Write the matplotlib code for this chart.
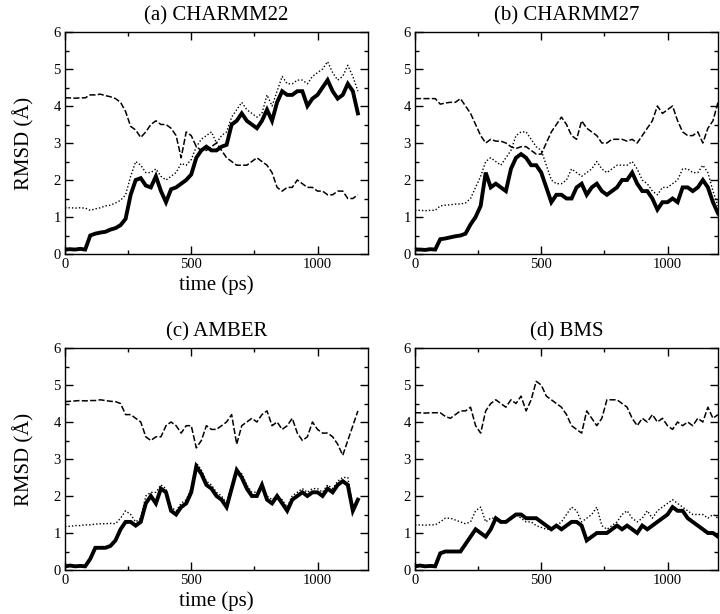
import matplotlib
matplotlib.use("Agg")
import matplotlib.pyplot as plt
from matplotlib.ticker import MultipleLocator

plt.rcParams['font.family'] = ['Liberation Serif', 'DejaVu Serif']
plt.rcParams['mathtext.fontset'] = 'stix'

titles = ["(a) CHARMM22", "(b) CHARMM27", "(c) AMBER", "(d) BMS"]

time_a = list(range(0, 1161, 20))
time_b = list(range(0, 1201, 20))
time_c = list(range(0, 1161, 20))
time_d = list(range(0, 1201, 20))

# (a) CHARMM22
solid_a = [0.12, 0.13, 0.12, 0.14, 0.12, 0.50, 0.55, 0.58, 0.60, 0.66, 0.70, 0.78, 0.95, 1.60, 2.00, 2.05,
           1.85, 1.80, 2.10, 1.70, 1.40, 1.75, 1.80, 1.90, 2.00, 2.15, 2.60, 2.80, 2.90, 2.80, 2.80, 2.90,
           2.95, 3.50, 3.60, 3.80, 3.60, 3.50, 3.40, 3.60, 3.90, 3.60, 4.10, 4.40, 4.30, 4.30, 4.40, 4.40,
           4.00, 4.20, 4.30, 4.50, 4.70, 4.40, 4.20, 4.30, 4.60, 4.40, 3.80]
dotted_a = [1.25, 1.25, 1.24, 1.25, 1.24, 1.18, 1.22, 1.25, 1.30, 1.32, 1.38, 1.45, 1.60, 2.10, 2.50, 2.40,
            2.20, 2.20, 2.30, 2.10, 2.00, 2.10, 2.20, 2.45, 2.40, 2.55, 2.90, 3.10, 3.20, 3.30, 3.00, 3.20,
            3.30, 3.70, 3.90, 4.10, 3.90, 3.80, 3.70, 3.80, 4.30, 4.00, 4.40, 4.80, 4.60, 4.60, 4.70, 4.70,
            4.60, 4.80, 4.90, 5.00, 5.20, 4.90, 4.70, 4.80, 5.10, 4.80, 4.40]
dashed_a = [4.22, 4.22, 4.21, 4.22, 4.22, 4.30, 4.30, 4.32, 4.28, 4.25, 4.20, 4.10, 3.85, 3.45, 3.35, 3.15,
            3.30, 3.50, 3.60, 3.50, 3.50, 3.40, 3.20, 2.60, 3.30, 3.20, 2.90, 2.80, 2.80, 2.90, 3.00, 2.80,
            2.60, 2.50, 2.40, 2.40, 2.40, 2.50, 2.60, 2.50, 2.40, 2.20, 1.80, 1.70, 1.80, 1.80, 2.00, 1.90,
            1.80, 1.80, 1.70, 1.70, 1.60, 1.60, 1.70, 1.70, 1.50, 1.50, 1.60]

# (b) CHARMM27
solid_b = [0.12, 0.12, 0.11, 0.13, 0.12, 0.40, 0.42, 0.45, 0.48, 0.50, 0.55, 0.80, 1.00, 1.30, 2.20, 1.80,
           1.90, 1.80, 1.70, 2.30, 2.60, 2.70, 2.60, 2.40, 2.40, 2.20, 1.80, 1.40, 1.60, 1.60, 1.50, 1.50,
           1.80, 1.90, 1.60, 1.80, 1.90, 1.70, 1.60, 1.70, 1.80, 2.00, 2.00, 2.20, 1.90, 1.70, 1.70, 1.50,
           1.20, 1.40, 1.40, 1.50, 1.40, 1.80, 1.80, 1.70, 1.80, 2.00, 1.80, 1.40, 1.10]
dotted_b = [1.18, 1.18, 1.17, 1.18, 1.18, 1.30, 1.32, 1.33, 1.35, 1.35, 1.38, 1.50, 1.80, 2.10, 2.50, 2.60,
            2.50, 2.40, 2.60, 2.80, 3.20, 3.30, 3.30, 3.10, 2.90, 2.80, 2.40, 2.00, 1.90, 1.90, 2.00, 2.30,
            2.20, 2.10, 2.20, 2.30, 2.50, 2.30, 2.20, 2.30, 2.40, 2.40, 2.40, 2.50, 2.30, 2.00, 1.90, 1.70,
            1.60, 1.80, 1.80, 1.90, 2.00, 2.30, 2.30, 2.20, 2.20, 2.40, 2.20, 1.70, 1.30]
dashed_b = [4.20, 4.20, 4.20, 4.20, 4.20, 4.05, 4.08, 4.10, 4.10, 4.20, 4.00, 3.80, 3.50, 3.20, 3.00, 3.10,
            3.05, 3.05, 3.00, 2.90, 2.85, 2.90, 2.90, 2.80, 2.70, 2.70, 3.00, 3.30, 3.50, 3.70, 3.50, 3.20,
            3.10, 3.60, 3.40, 3.30, 3.20, 3.00, 3.00, 3.10, 3.10, 3.10, 3.05, 3.10, 3.00, 3.20, 3.40, 3.60,
            4.00, 3.80, 3.90, 4.00, 3.60, 3.30, 3.20, 3.20, 3.30, 3.00, 3.40, 3.60, 4.10]

# (c) AMBER
solid_c = [0.10, 0.12, 0.10, 0.11, 0.10, 0.30, 0.60, 0.60, 0.60, 0.65, 0.80, 1.10, 1.30, 1.30, 1.20, 1.30,
           1.80, 2.00, 1.80, 2.20, 2.10, 1.60, 1.50, 1.70, 1.80, 2.10, 2.80, 2.60, 2.30, 2.20, 2.00, 1.90,
           1.70, 2.20, 2.70, 2.50, 2.20, 2.00, 2.00, 2.30, 1.90, 1.80, 2.00, 1.80, 1.60, 1.90, 2.00, 2.10,
           2.00, 2.10, 2.10, 2.00, 2.20, 2.10, 2.30, 2.40, 2.30, 1.60, 1.90]
dotted_c = [1.18, 1.18, 1.20, 1.20, 1.22, 1.22, 1.24, 1.25, 1.25, 1.26, 1.25, 1.40, 1.60, 1.50, 1.30, 1.40,
            2.00, 2.10, 2.10, 2.30, 2.20, 1.70, 1.60, 1.80, 1.90, 2.20, 2.90, 2.70, 2.40, 2.30, 2.10, 2.00,
            1.80, 2.30, 2.70, 2.60, 2.30, 2.10, 2.10, 2.30, 2.00, 1.90, 2.00, 1.90, 1.70, 2.00, 2.10, 2.20,
            2.10, 2.20, 2.20, 2.10, 2.30, 2.20, 2.40, 2.50, 2.50, 1.70, 1.90]
dashed_c = [4.55, 4.56, 4.57, 4.58, 4.57, 4.58, 4.58, 4.60, 4.58, 4.56, 4.55, 4.50, 4.20, 4.20, 4.10, 4.00,
            3.60, 3.50, 3.60, 3.60, 3.90, 4.00, 3.90, 3.70, 3.90, 3.90, 3.30, 3.50, 3.90, 3.80, 3.80, 3.90,
            4.00, 4.20, 3.40, 3.90, 4.00, 4.10, 4.00, 4.20, 4.30, 3.90, 4.00, 3.80, 3.90, 4.10, 3.70, 3.50,
            3.60, 4.00, 3.80, 3.70, 3.70, 3.60, 3.40, 3.10, 3.50, 3.90, 4.30]

# (d) BMS
solid_d = [0.10, 0.12, 0.10, 0.11, 0.10, 0.45, 0.50, 0.50, 0.50, 0.50, 0.70, 0.90, 1.10, 1.00, 0.90, 1.10,
           1.40, 1.30, 1.30, 1.40, 1.50, 1.50, 1.40, 1.40, 1.40, 1.30, 1.20, 1.10, 1.20, 1.10, 1.20, 1.30,
           1.30, 1.20, 0.80, 0.90, 1.00, 1.00, 1.00, 1.10, 1.20, 1.10, 1.20, 1.10, 1.00, 1.20, 1.10, 1.20,
           1.30, 1.40, 1.50, 1.70, 1.60, 1.60, 1.40, 1.30, 1.20, 1.10, 1.00, 1.00, 0.90]
dotted_d = [1.22, 1.22, 1.21, 1.22, 1.22, 1.30, 1.40, 1.40, 1.35, 1.30, 1.25, 1.30, 1.60, 1.70, 1.30, 1.40,
            1.40, 1.35, 1.30, 1.40, 1.50, 1.40, 1.30, 1.30, 1.20, 1.15, 1.10, 1.10, 1.20, 1.30, 1.50, 1.70,
            1.60, 1.30, 1.40, 1.50, 1.70, 1.20, 1.10, 1.20, 1.30, 1.50, 1.60, 1.40, 1.30, 1.40, 1.60, 1.40,
            1.60, 1.70, 1.80, 1.90, 1.80, 1.70, 1.60, 1.50, 1.50, 1.50, 1.40, 1.50, 1.40]
dashed_d = [4.25, 4.25, 4.24, 4.25, 4.25, 4.25, 4.15, 4.10, 4.20, 4.30, 4.30, 4.40, 3.90, 3.70, 4.30, 4.50,
            4.60, 4.50, 4.40, 4.60, 4.50, 4.70, 4.30, 4.60, 5.10, 5.00, 4.70, 4.60, 4.50, 4.40, 4.20, 3.90,
            3.80, 3.70, 4.30, 4.10, 3.90, 4.10, 4.60, 4.60, 4.60, 4.50, 4.40, 4.10, 3.90, 4.10, 4.00, 4.20,
            4.00, 4.10, 3.90, 3.80, 4.00, 3.90, 4.00, 3.90, 4.10, 4.00, 4.40, 4.10, 4.20]

panels = [
    (time_a, solid_a, dotted_a, dashed_a),
    (time_b, solid_b, dotted_b, dashed_b),
    (time_c, solid_c, dotted_c, dashed_c),
    (time_d, solid_d, dotted_d, dashed_d),
]

fig = plt.figure(figsize=(7.2, 6.14), dpi=100)
W, H = 720.0, 614.0
boxes = [(65, 32, 368, 254), (415, 32, 718, 254), (65, 348, 368, 570), (415, 348, 718, 570)]

for i, ((t, s, d, da), (x0, y0, x1, y1)) in enumerate(zip(panels, boxes)):
    ax = fig.add_axes([x0 / W, 1 - y1 / H, (x1 - x0) / W, (y1 - y0) / H])
    ax.plot(t, s, color='black', lw=2.8, solid_joinstyle='miter')
    ax.plot(t, d, color='black', lw=1.0, linestyle=(0, (1, 1.5)))
    ax.plot(t, da, color='black', lw=1.1, linestyle=(0, (4, 1.5)))
    ax.set_xlim(0, 1200)
    ax.set_ylim(0, 6)
    ax.xaxis.set_major_locator(MultipleLocator(500))
    ax.xaxis.set_minor_locator(MultipleLocator(250))
    ax.yaxis.set_major_locator(MultipleLocator(1))
    ax.yaxis.set_minor_locator(MultipleLocator(0.5))
    ax.tick_params(which='both', direction='in', top=True, right=True, labelsize=10.5, width=1.0)
    ax.tick_params(which='major', length=6, pad=3)
    ax.tick_params(which='minor', length=3)
    for sp in ax.spines.values():
        sp.set_linewidth(1.0)
    ax.set_title(titles[i], fontsize=15, pad=8)
    if i % 2 == 0:
        ax.set_ylabel('RMSD (Å)', fontsize=15, labelpad=14)
    if i in (0, 2):
        ax.set_xlabel('time (ps)', fontsize=15, labelpad=3)

fig.savefig('out.png', dpi=100)
